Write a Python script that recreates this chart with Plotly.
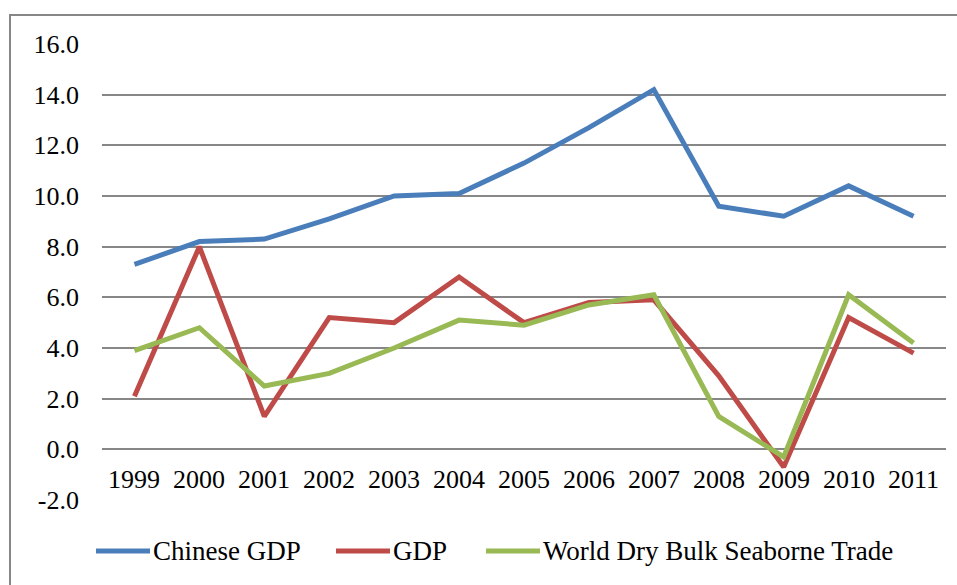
import plotly.graph_objects as go

years = ["1999", "2000", "2001", "2002", "2003", "2004", "2005",
         "2006", "2007", "2008", "2009", "2010", "2011"]
chinese_gdp = [7.3, 8.2, 8.3, 9.1, 10.0, 10.1, 11.3, 12.7, 14.2, 9.6, 9.2, 10.4, 9.2]
world_gdp = [2.1, 8.0, 1.3, 5.2, 5.0, 6.8, 5.0, 5.8, 5.9, 2.9, -0.7, 5.2, 3.8]
dry_bulk_trade = [3.9, 4.8, 2.5, 3.0, 4.0, 5.1, 4.9, 5.7, 6.1, 1.3, -0.3, 6.1, 4.2]
series_names = ["Chinese GDP", "GDP", "World Dry Bulk Seaborne Trade"]
y_ticks = [-2, 0, 2, 4, 6, 8, 10, 12, 14, 16]

colors = ["#4A7EBB", "#BE4B48", "#98B954"]
FONT = "Liberation Serif"
FS = 26

fig = go.Figure()
for name, vals, col in zip(series_names, [chinese_gdp, world_gdp, dry_bulk_trade], colors):
    fig.add_trace(go.Scatter(
        x=list(range(len(years))), y=vals, name=name, mode="lines",
        line=dict(color=col, width=5), showlegend=False,
    ))

# Year labels sit between the 0 and -2 gridlines
for i, yr in enumerate(years):
    fig.add_annotation(x=i, y=-1.2, text=yr, showarrow=False, xref="x", yref="y",
                       font=dict(family=FONT, size=FS, color="#000000"))

# Outer chart frame
fig.add_shape(type="rect", xref="paper", yref="paper", x0=-0.109, y0=-0.4, x1=1.2, y1=1.0636,
              line=dict(color="#878787", width=2), layer="below")

# Hand-built legend row
legend_x = [96, 336, 486]
L = 102
plot_w, plot_h = 946 - 102, 500 - 44
for px, name, col in zip(legend_x, series_names, colors):
    x0 = (px - L) / plot_w
    x1 = (px + 54 - L) / plot_w
    yy = (500 - 551) / plot_h
    fig.add_shape(type="line", xref="paper", yref="paper", x0=x0, x1=x1, y0=yy, y1=yy,
                  line=dict(color=col, width=5))
    fig.add_annotation(xref="paper", yref="paper", x=(px + 55 - L) / plot_w, y=yy,
                       text=name, showarrow=False, xanchor="left", yanchor="middle",
                       font=dict(family=FONT, size=27, color="#000000"))

fig.update_layout(
    width=957, height=585,
    margin=dict(l=102, r=11, t=44, b=85),
    paper_bgcolor="white", plot_bgcolor="white",
    font=dict(family=FONT, size=FS, color="#000000"),
    xaxis=dict(range=[-0.5, len(years) - 0.5], showticklabels=False, showgrid=False,
               zeroline=False, showline=False, ticks=""),
    yaxis=dict(range=[-2, 16], tickvals=y_ticks, ticktext=[f"{v:.1f}" for v in y_ticks],
               showgrid=True, gridcolor="#878787", gridwidth=1.5, zeroline=False,
               showline=False, ticks="", ticklabelstandoff=22,
               tickfont=dict(family=FONT, size=FS, color="#000000")),
    showlegend=False,
)

fig.write_html("out.html")
